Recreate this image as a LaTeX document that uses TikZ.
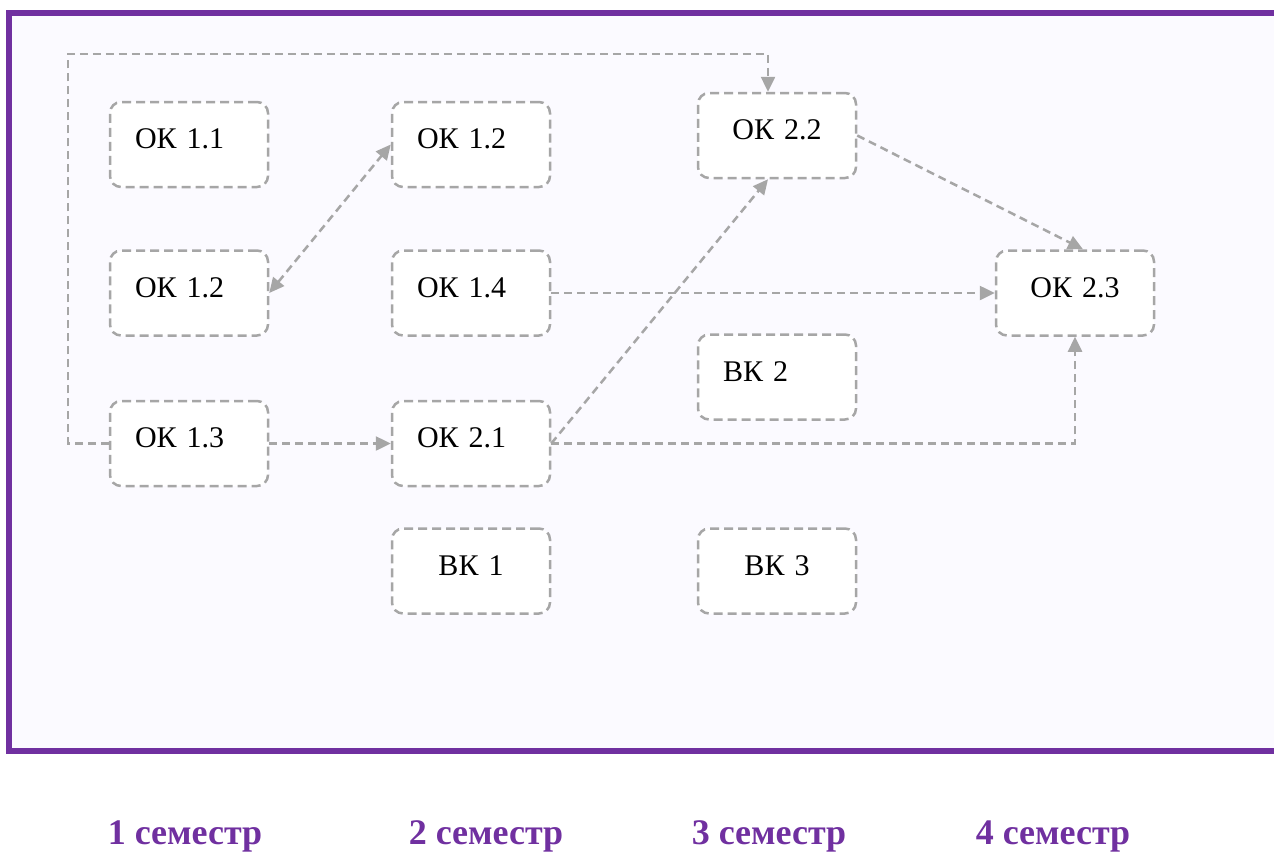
\documentclass[tikz,border=0pt]{standalone}
\usepackage{fontspec}
\setmainfont{Liberation Serif}
\usepackage{tikz}
\usetikzlibrary{arrows.meta}
\definecolor{framepurple}{RGB}{112,48,160}
\definecolor{framefill}{RGB}{251,250,255}
\definecolor{linegray}{RGB}{166,166,166}
\tikzstyle{okbox} = [rectangle, draw=linegray, line width=2.5pt,
                     dash pattern=on 9pt off 5pt, rounded corners=11pt,
                     fill=white, minimum height=85pt, inner xsep=25pt,
                     text width=108pt, text height=8pt, text depth=0pt,
                     font=\fontsize{30}{36}\selectfont]
\tikzstyle{okleft} = [okbox, align=left]
\tikzstyle{okmid} = [okbox, align=center]
\tikzstyle{link} = [draw=linegray, line width=2.5pt, dash pattern=on 8pt off 5pt,
                    -{Triangle[length=15pt,width=14pt]}]
\tikzstyle{semester} = [text=framepurple, anchor=base,
                        font=\fontsize{36}{40}\selectfont\bfseries]
\begin{document}
\begin{tikzpicture}[x=1pt,y=-1pt]
\useasboundingbox (0,0) rectangle (1274,854);
\clip (0,0) rectangle (1274,854);
%Frame
\draw[framepurple, line width=6pt, fill=framefill] (8.5,13) rectangle (1300,750.5);

%Semester 1
\node[okleft] at (189,144.5) (ok11){ОК 1.1};
\node[okleft] at (189,293) (ok12b){ОК 1.2};
\node[okleft] at (189,443.5) (ok13){ОК 1.3};

%Semester 2
\node[okleft] at (471,144.5) (ok12a){ОК 1.2};
\node[okleft] at (471,293) (ok14){ОК 1.4};
\node[okleft] at (471,443.5) (ok21){ОК 2.1};
\node[okmid] at (471,571) (vk1){ВК 1};

%Semester 3
\node[okmid] at (777,135.5) (ok22){ОК 2.2};
\node[okleft] at (777,377) (vk2){ВК 2};
\node[okmid] at (777,571) (vk3){ВК 3};

%Semester 4
\node[okmid] at (1075,293) (ok23){ОК 2.3};

% Links
\coordinate (c1) at (68,54);
\draw[link] (ok13.west) -| (c1) -| ([xshift=-9pt]ok22.north);
\draw[link] (ok13.east) -- (ok21.west);
\draw[link, {Triangle[length=15pt,width=14pt]}-{Triangle[length=15pt,width=14pt]}] (ok12b.east) -- (ok12a.west);
\draw[link] (ok21.east) -- ([xshift=-9pt]ok22.south);
\draw[link] (ok21.east) -| (ok23.south);
\draw[link] (ok14.east) -- (ok23.west);
\draw[link] (ok22.east) -- ([xshift=8pt]ok23.north);

% Semesters
\node[semester] (s1) at (185,844) {1 семестр};
\node[semester] (s2) at (486,844) {2 семестр};
\node[semester] (s3) at (769,844) {3 семестр};
\node[semester] (s4) at (1053,844) {4 семестр};
\end{tikzpicture}
\end{document}
